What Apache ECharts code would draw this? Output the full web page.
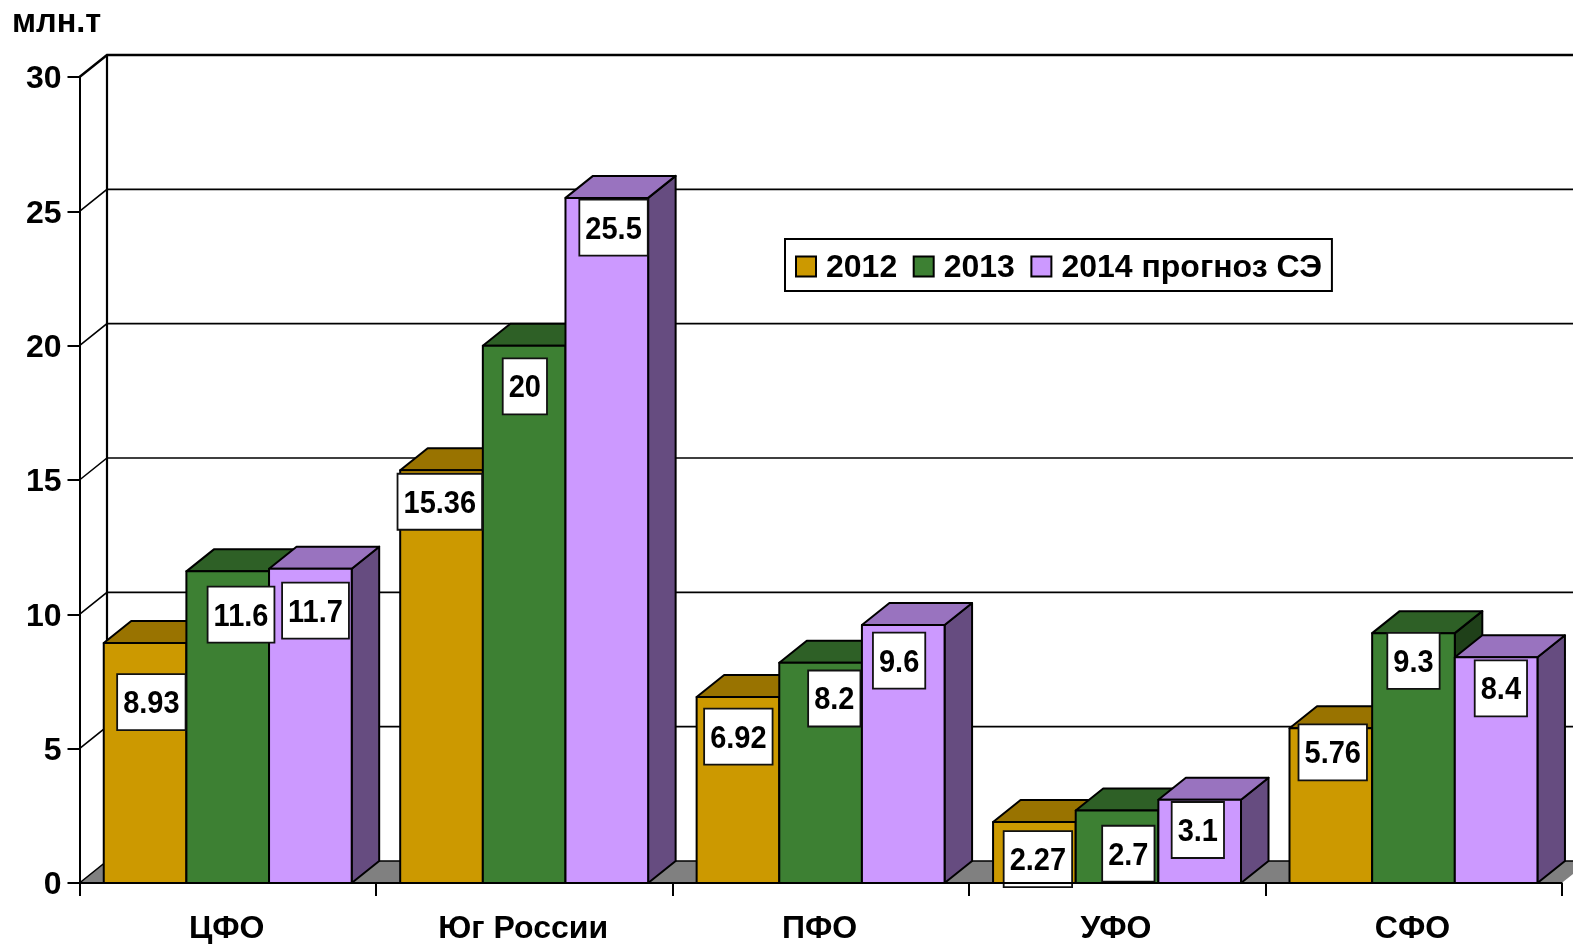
<!DOCTYPE html>
<html>
<head>
<meta charset="utf-8">
<style>html,body{margin:0;padding:0;background:#fff}#c{width:1573px;height:944px}</style>
<script src="https://cdn.jsdelivr.net/npm/echarts@6/dist/echarts.min.js"></script>
</head>
<body>
<div id="c"></div>
<script>
const categories = ['ЦФО', 'Юг России', 'ПФО', 'УФО', 'СФО'];
const values2012 = [8.93, 15.36, 6.92, 2.27, 5.76];
const values2013 = [11.6, 20, 8.2, 2.7, 9.3];
const values2014 = [11.7, 25.5, 9.6, 3.1, 8.4];
const seriesNames = ['2012', '2013', '2014 прогноз СЭ'];
const yTicks = [0, 5, 10, 15, 20, 25, 30];

// layout only: offsets of each value label box centre from the top centre of its bar, px
const labelDx = [[6.3, -1.7, 0.4, 3.5, 1.9], [13.3, 0.7, 13.7, 11.3, 0], [5.15, 6.75, -4.15, -1.85, 4.75]];
const labelDy = [[59, 31.4, 39.6, 37.2, 24.1], [43.2, 40.7, 35.8, 43.3, 27.7], [41.9, 29.7, 35.5, 30.3, 31]];
const front = ['#CC9900', '#3D8033', '#CC99FF'];
const top3d = ['#997300', '#2E6026', '#9973BF'];
const side = ['#664C00', '#1F4019', '#664C80'];

const FONT = '"Liberation Sans", Arial, sans-serif';
const LABEL_FONT = 'bold 29px ' + FONT;
const DEPTH_X = 27.5, DEPTH_Y = 22, BAR_RATIO = 0.2788;
const BOX_H = 56, BOX_PAD = 6;
const measure = document.createElement('canvas').getContext('2d');

function wallItem(params, api) {
  const cs = params.coordSys;
  const v = api.value(0);
  const p = api.coord([0, v]);
  const y = p[1], x0 = cs.x, x1 = cs.x + cs.width;
  const isTop = v === yTicks[yTicks.length - 1];
  const lw = isTop ? 2.5 : 1.6;
  const ls = { stroke: '#000', lineWidth: lw, fill: null };
  const children = [];
  if (v === yTicks[0]) {
    children.push({ type: 'polygon', shape: { points: [[x0, y], [x0 + DEPTH_X, y - DEPTH_Y], [x1 + DEPTH_X, y - DEPTH_Y], [x1, y]] },
      style: { fill: '#808080', stroke: null } });
    children.push({ type: 'line', shape: { x1: x0 + DEPTH_X, y1: cs.y - DEPTH_Y, x2: x0 + DEPTH_X, y2: y - DEPTH_Y },
      style: { stroke: '#000', lineWidth: 2.2 } });
  }
  children.push({ type: 'polyline', shape: { points: [[x0, y], [x0 + DEPTH_X, y - DEPTH_Y], [x1 + DEPTH_X, y - DEPTH_Y]] }, style: ls });
  return { type: 'group', children };
}

function barRenderer(si) {
  return function (params, api) {
    const idx = api.value(0), v = api.value(1);
    const cw = api.size([1, 0])[0];
    const w = cw * BAR_RATIO;
    const c = api.coord([idx, v]);
    const base = api.coord([idx, 0]);
    const xl = c[0] + (si - 1) * w - w / 2, xr = xl + w;
    const yt = c[1], yb = base[1];
    const edge = { stroke: '#000', lineWidth: 2, lineJoin: 'round' };
    const z2 = si * 10;
    const text = String(v);
    measure.font = LABEL_FONT;
    const boxW = measure.measureText(text).width + 2 * BOX_PAD;
    const cx = c[0] + (si - 1) * w + labelDx[si][idx];
    const cy = yt + labelDy[si][idx];
    return { type: 'group', children: [
      { type: 'polygon', z2, shape: { points: [[xr, yt], [xr + DEPTH_X, yt - DEPTH_Y], [xr + DEPTH_X, yb - DEPTH_Y], [xr, yb]] },
        style: Object.assign({ fill: side[si] }, edge) },
      { type: 'polygon', z2, shape: { points: [[xl, yt], [xl + DEPTH_X, yt - DEPTH_Y], [xr + DEPTH_X, yt - DEPTH_Y], [xr, yt]] },
        style: Object.assign({ fill: top3d[si] }, edge) },
      { type: 'rect', z2, shape: { x: xl, y: yt, width: w, height: yb - yt },
        style: Object.assign({ fill: front[si] }, edge) },
      { type: 'rect', z2: 100, shape: { x: cx - boxW / 2, y: cy - BOX_H / 2, width: boxW, height: BOX_H },
        style: { fill: '#fff', stroke: '#111', lineWidth: 1.8 } },
      { type: 'text', z2: 101, x: cx, y: cy + 2.5, scaleY: 1.06,
        style: { text, align: 'center', verticalAlign: 'middle', fill: '#000', font: LABEL_FONT } }
    ] };
  };
}

function barSeries(si, values) {
  return {
    name: seriesNames[si], type: 'custom', z: 2, silent: true, animation: false,
    renderItem: barRenderer(si),
    encode: { x: 0, y: 1 },
    itemStyle: { color: front[si], borderColor: '#000', borderWidth: 1.5 },
    data: values.map((v, i) => [i, v])
  };
}

const chart = echarts.init(document.getElementById('c'), null, { renderer: 'canvas' });
chart.setOption({
  animation: false,
  backgroundColor: '#fff',
  title: { text: 'млн.т', left: 12, top: 7, padding: 0,
    textStyle: { fontFamily: FONT, fontWeight: 'bold', fontSize: 32.5, color: '#000' } },
  legend: {
    left: 785, top: 239, orient: 'horizontal', icon: 'rect',
    data: seriesNames, itemWidth: 20, itemHeight: 20, itemGap: 15.5,
    padding: [13, 10, 7, 10], backgroundColor: '#fff', borderColor: '#000', borderWidth: 2,
    selectedMode: false,
    formatter: '{a|{name}}',
    textStyle: { padding: [0, 0, 0, 5], rich: { a: { fontFamily: FONT, fontWeight: 'bold', fontSize: 32, color: '#000', padding: [3, 0, 0, 0] } } }
  },
  grid: { left: 79.5, top: 77, width: 1482.2, height: 806, containLabel: false, outerBoundsMode: 'none' },
  xAxis: {
    type: 'category', data: categories, z: 5,
    axisLine: { show: true, lineStyle: { color: '#000', width: 2 } },
    axisTick: { show: true, alignWithLabel: false, length: 13, lineStyle: { color: '#000', width: 2 } },
    axisLabel: { color: '#000', fontFamily: FONT, fontWeight: 'bold', fontSize: 32, margin: 30, interval: 0, padding: [0, 2, 0, 0] },
    splitLine: { show: false }
  },
  yAxis: {
    type: 'value', min: 0, max: 30, interval: 5, z: 5,
    axisLine: { show: true, lineStyle: { color: '#000', width: 2 } },
    axisTick: { show: true, length: 12, lineStyle: { color: '#000', width: 2 } },
    axisLabel: { margin: 18, formatter: '{a|{value}}',
      rich: { a: { color: '#000', fontFamily: FONT, fontWeight: 'bold', fontSize: 32, padding: [5, 0, 0, 0] } } },
    splitLine: { show: false }
  },
  series: [
    { name: 'wall', type: 'custom', z: 1, silent: true, animation: false, renderItem: wallItem,
      encode: { y: 0 }, data: yTicks.map(v => [v]) },
    barSeries(0, values2012),
    barSeries(1, values2013),
    barSeries(2, values2014)
  ]
});
</script>
</body>
</html>
